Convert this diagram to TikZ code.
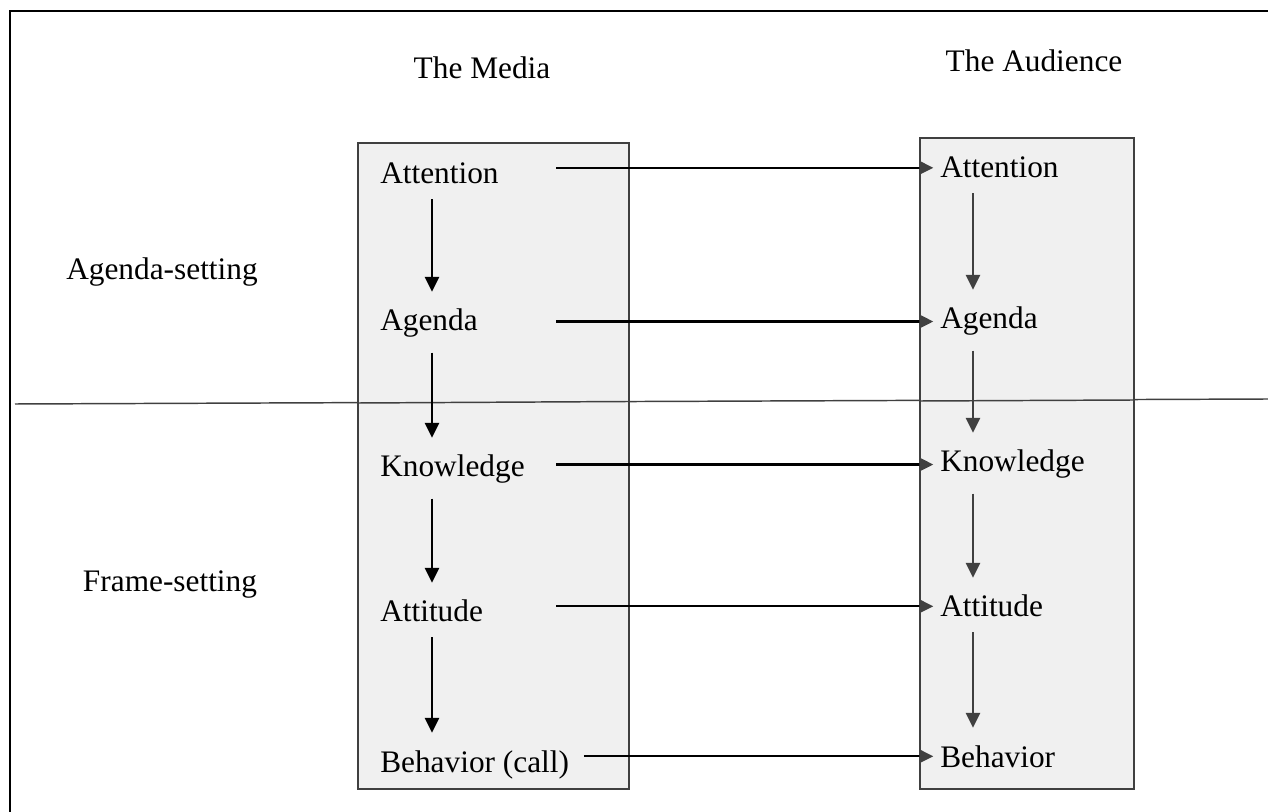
\documentclass[tikz,border=0pt]{standalone}
\usepackage{fontspec}
\setmainfont{Liberation Serif}
\usepackage{tikz}
\usetikzlibrary{arrows.meta}
\definecolor{boxfill}{HTML}{F0F0F0}
\definecolor{darkline}{HTML}{404040}

\begin{document}
\begin{tikzpicture}[x=0.75pt,y=-0.75pt]
					\tikzstyle{lbl}=[inner sep=0pt,font=\fontsize{23.5}{28}\selectfont]
					\tikzstyle{item}=[lbl,anchor=base west]
					\tikzstyle{harrow}=[line width=1.8pt,-{Triangle[length=10.5pt,width=10pt,color=darkline]}]
					\tikzstyle{lvarrow}=[line width=1.8pt,-{Triangle[length=11pt,width=10.5pt]},shorten <=11pt,shorten >=13pt]
					\tikzstyle{rvarrow}=[darkline,line width=1.5pt,-{Triangle[length=11pt,width=10.5pt]},shorten <=11pt,shorten >=13pt]
					\useasboundingbox (0,0) rectangle (1268,812);
					% frame and divider
					\draw[line width=1.5pt] (1268,11) -- (10,11) -- (10,812);
					\draw[darkline,line width=1.1pt] (15,404) -- (1268,399);
					% the two columns
					\draw[boxfill,fill=boxfill] (358,143) rectangle (629,789);
					\draw[darkline,line width=1pt] (358,143) rectangle (629,789);
					\draw[boxfill,fill=boxfill] (920,138) rectangle (1134,789);
					\draw[darkline,line width=1pt] (920,138) rectangle (1134,789);
					\draw[darkline,line width=1.1pt] (358,403) -- (629,401.5);
					\draw[darkline,line width=1.1pt] (920,401) -- (1134,400);
					\node[lbl,anchor=base](media) at (482,79) {The Media};
					\node[lbl,anchor=base](audience) at (1034,72) {The Audience};
					\node[lbl,anchor=base](agset) at (162,280) {Agenda-setting};
					\node[lbl,anchor=base](frset) at (170,592) {Frame-setting};
					% media side
					\node[item](mAtt) at (380,184) {Attention};
					\node[item](mAge) at (380,331) {Agenda};
					\node[item](mKno) at (380,477) {Knowledge};
					\node[item](mAtd) at (380,622) {Attitude};
					\node[item](mBeh) at (380,772) {Behavior (call)};
					% audience side
					\node[item](aAtt) at (940,178) {Attention};
					\node[item](aAge) at (940,329) {Agenda};
					\node[item](aKno) at (940,472) {Knowledge};
					\node[item](aAtd) at (940,617) {Attitude};
					\node[item](aBeh) at (940,767) {Behavior};
					\coordinate (mcol) at (432,0);
					\coordinate (acol) at (973,0);
					\coordinate (hstart) at (556,0);
					\draw[lvarrow] (mAtt.south -| mcol) to (mAge.north -| mcol);
					\draw[lvarrow] (mAge.south -| mcol) to (mKno.north -| mcol);
					\draw[lvarrow] (mKno.south -| mcol) to (mAtd.north -| mcol);
					\draw[lvarrow] (mAtd.south -| mcol) to (mBeh.north -| mcol);
					\draw[rvarrow] (aAtt.south -| acol) to (aAge.north -| acol);
					\draw[rvarrow] (aAge.south -| acol) to (aKno.north -| acol);
					\draw[rvarrow] (aKno.south -| acol) to (aAtd.north -| acol);
					\draw[rvarrow] (aAtd.south -| acol) to (aBeh.north -| acol);
					\draw[harrow] (hstart |- aAtt.west) to ([xshift=-5pt]aAtt.west);
					\draw[harrow] (hstart |- aAge.west) to ([xshift=-5pt]aAge.west);
					\draw[harrow] (hstart |- aKno.west) to ([xshift=-5pt]aKno.west);
					\draw[harrow] (hstart |- aAtd.west) to ([xshift=-5pt]aAtd.west);
					\draw[harrow] ([xshift=11pt]mBeh.east |- aBeh.west) to ([xshift=-5pt]aBeh.west);
				\end{tikzpicture}
\end{document}
